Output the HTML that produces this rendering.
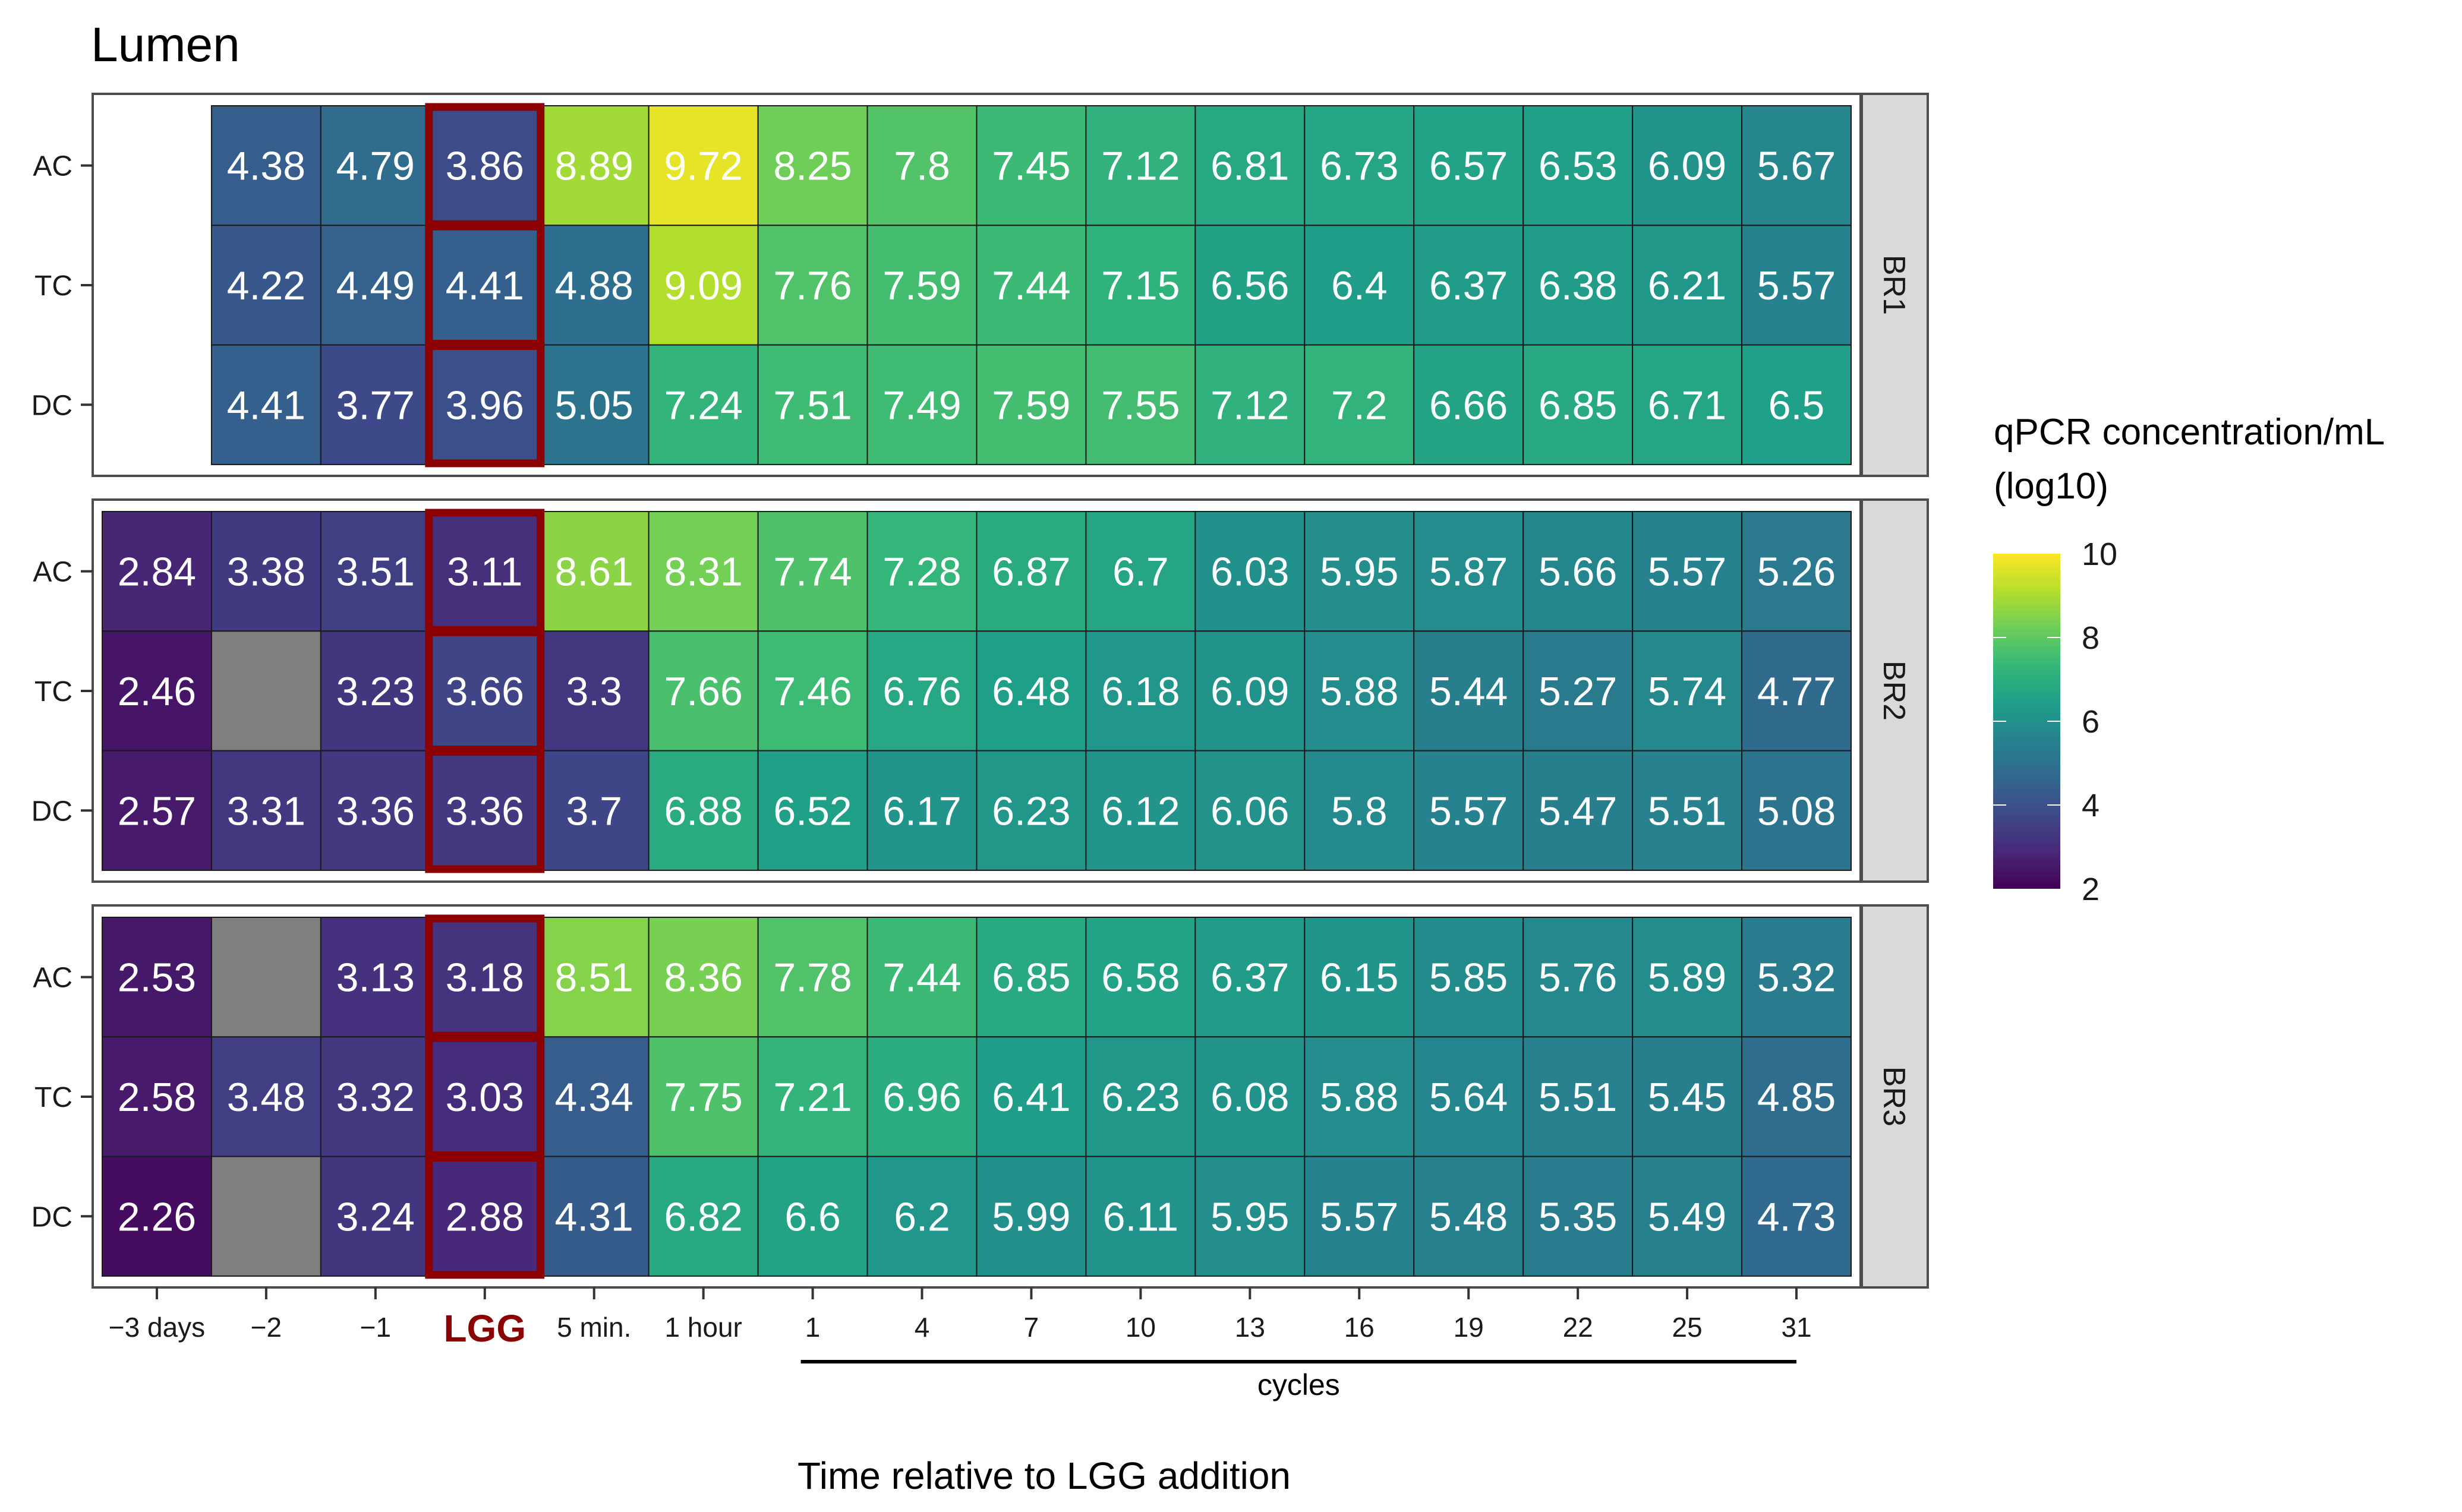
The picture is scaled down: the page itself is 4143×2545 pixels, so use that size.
<!DOCTYPE html>
<html><head><meta charset="utf-8"><style>
html,body{margin:0;padding:0;background:#fff;}
svg{display:block;font-family:"Liberation Sans",Arial,sans-serif;}
</style></head><body>
<svg id="chart" width="4143" height="2545" viewBox="0 0 4143 2545" xmlns="http://www.w3.org/2000/svg">
<rect width="4143" height="2545" fill="#fff"/>
<text x="153" y="103" font-size="82" fill="#000">Lumen</text>
<g id="panels"></g>
<g id="xaxis"></g>
<g id="legend"></g>
</svg>
<script>
const timeLabels = ["−3 days","−2","−1","LGG","5 min.","1 hour","1","4","7","10","13","16","19","22","25","31"];
const compartments = ["AC","TC","DC"];
const reactors = ["BR1","BR2","BR3"];
const N = NaN; // measured-missing (grey)
const br1AC = [null,4.38,4.79,3.86,8.89,9.72,8.25,7.8,7.45,7.12,6.81,6.73,6.57,6.53,6.09,5.67];
const br1TC = [null,4.22,4.49,4.41,4.88,9.09,7.76,7.59,7.44,7.15,6.56,6.4,6.37,6.38,6.21,5.57];
const br1DC = [null,4.41,3.77,3.96,5.05,7.24,7.51,7.49,7.59,7.55,7.12,7.2,6.66,6.85,6.71,6.5];
const br2AC = [2.84,3.38,3.51,3.11,8.61,8.31,7.74,7.28,6.87,6.7,6.03,5.95,5.87,5.66,5.57,5.26];
const br2TC = [2.46,N,3.23,3.66,3.3,7.66,7.46,6.76,6.48,6.18,6.09,5.88,5.44,5.27,5.74,4.77];
const br2DC = [2.57,3.31,3.36,3.36,3.7,6.88,6.52,6.17,6.23,6.12,6.06,5.8,5.57,5.47,5.51,5.08];
const br3AC = [2.53,N,3.13,3.18,8.51,8.36,7.78,7.44,6.85,6.58,6.37,6.15,5.85,5.76,5.89,5.32];
const br3TC = [2.58,3.48,3.32,3.03,4.34,7.75,7.21,6.96,6.41,6.23,6.08,5.88,5.64,5.51,5.45,4.85];
const br3DC = [2.26,N,3.24,2.88,4.31,6.82,6.6,6.2,5.99,6.11,5.95,5.57,5.48,5.35,5.49,4.73];
const legendTicks = [2,4,6,8,10];
const highlightCol = 3;

const data = [[br1AC,br1TC,br1DC],[br2AC,br2TC,br2DC],[br3AC,br3TC,br3DC]];
const NS = "http://www.w3.org/2000/svg";
function mk(tag, attrs, parent, txt){const e=document.createElementNS(NS,tag);for(const k in attrs)e.setAttribute(k,attrs[k]);if(txt!==undefined)e.textContent=txt;parent.appendChild(e);return e;}

const VIR=[[68,1,84],[72,40,120],[62,73,137],[49,104,142],[38,130,142],[31,158,137],[53,183,121],[109,205,89],[180,222,44],[253,231,37]];
function viridis(v){let t=(v-2)/8;t=Math.max(0,Math.min(1,t));const p=t*(VIR.length-1);const i=Math.min(Math.floor(p),VIR.length-2);const f=p-i;
 const c=VIR[i].map((a,k)=>Math.round(a+(VIR[i+1][k]-a)*f));return `rgb(${c[0]},${c[1]},${c[2]})`;}

const x0=172, colW=(3115-172)/16;
const rowH=201.3;
const panelTops=[158,841,1524];
const panelH=643;
const cellOff=20;
function xCell(c){return x0+c*colW;}
function yCell(p,r){return panelTops[p]+cellOff+r*rowH;}

const gP=document.getElementById('panels');
reactors.forEach((br,p)=>{
  const g=mk('g',{},gP);
  
  
  const pb=mk('rect',{x:156,y:panelTops[p],width:3131-156,height:panelH,fill:'#fff',stroke:'#4d4d4d','stroke-width':4},g);
  
  
  compartments.forEach((cp,r)=>{
    data[p][r].forEach((v,c)=>{
      if(v===null) return;
      const missing=Number.isNaN(v);
      const rc=mk('rect',{x:xCell(c),y:yCell(p,r),width:colW,height:rowH,fill:missing?'#7f7f7f':viridis(v),stroke:'#1a1a1a','stroke-width':2},g);
      
      
      if(!missing){
        const t=mk('text',{x:xCell(c)+colW/2,y:yCell(p,r)+rowH/2+24,'text-anchor':'middle','font-size':68,fill:'#fff'},g,String(v));
        
        
      }
    });
    const yc=yCell(p,r)+rowH/2;
    mk('line',{x1:136,x2:156,y1:yc,y2:yc,stroke:'#333','stroke-width':4},g);
    const yl=mk('text',{x:122,y:yc+17,'text-anchor':'end','font-size':48,fill:'#1a1a1a'},g,cp);
    
    
  });
  compartments.forEach((cp,r)=>{
    const hb=mk('rect',{x:xCell(highlightCol)-2,y:yCell(p,r)+2,width:colW+4,height:rowH-4,fill:'none',stroke:'#8b0000','stroke-width':13},g);
    
    
  });
  const st=mk('rect',{x:3133,y:panelTops[p],width:111,height:panelH,fill:'#d9d9d9',stroke:'#4d4d4d','stroke-width':4},g);
  
  
  const sy=panelTops[p]+panelH/2;
  const stt=mk('text',{x:3188,y:sy,'text-anchor':'middle','font-size':52,fill:'#1a1a1a',transform:`rotate(90 3188 ${sy}) translate(0 18)`},g,br);
  
  
});

const gX=document.getElementById('xaxis');
timeLabels.forEach((lab,c)=>{
  const xc=xCell(c)+colW/2;
  mk('line',{x1:xc,x2:xc,y1:2167,y2:2187,stroke:'#333','stroke-width':4},gX);
  const isL=c===highlightCol;
  const t=mk('text',{x:xc,y:isL?2258:2250,'text-anchor':'middle','font-size':isL?64:46,'font-weight':isL?'bold':'normal',fill:isL?'#8b0000':'#1a1a1a'},gX,lab);
  
  
});
const cx1=xCell(6)+colW/2-20, cx2=xCell(15)+colW/2;
const cl=mk('line',{x1:cx1,x2:cx2,y1:2292,y2:2292,stroke:'#000','stroke-width':6},gX);


const ct=mk('text',{x:(cx1+cx2)/2,y:2348,'text-anchor':'middle','font-size':50,fill:'#000'},gX,'cycles');


const xt=mk('text',{x:1757,y:2506,'text-anchor':'middle','font-size':64,fill:'#000'},gX,'Time relative to LGG addition');



const gL=document.getElementById('legend');
const lt1=mk('text',{x:3355,y:748,'font-size':62,fill:'#000'},gL,'qPCR concentration/mL');


const lt2=mk('text',{x:3355,y:839,'font-size':62,fill:'#000'},gL,'(log10)');


const defs=mk('defs',{},gL);
const grad=mk('linearGradient',{id:'vg',x1:0,y1:1,x2:0,y2:0},defs);
VIR.forEach((c,i)=>mk('stop',{offset:(i/(VIR.length-1)),'stop-color':`rgb(${c[0]},${c[1]},${c[2]})`},grad));
const cbTop=932, cbBot=1496, cbX=3354, cbW=113;
const cb=mk('rect',{x:cbX,y:cbTop,width:cbW,height:cbBot-cbTop,fill:'url(#vg)'},gL);


function yLeg(v){return cbBot-(v-2)/8*(cbBot-cbTop);}
legendTicks.forEach(v=>{
  const y=yLeg(v);
  if(v>2&&v<10){
    mk('line',{x1:cbX,x2:cbX+22,y1:y,y2:y,stroke:'#fff','stroke-width':2},gL);
    mk('line',{x1:cbX+cbW-22,x2:cbX+cbW,y1:y,y2:y,stroke:'#fff','stroke-width':2},gL);
  }
  const t=mk('text',{x:3503,y:y+19,'font-size':54,fill:'#1a1a1a'},gL,String(v));
  
  
});
</script>
</body></html>
